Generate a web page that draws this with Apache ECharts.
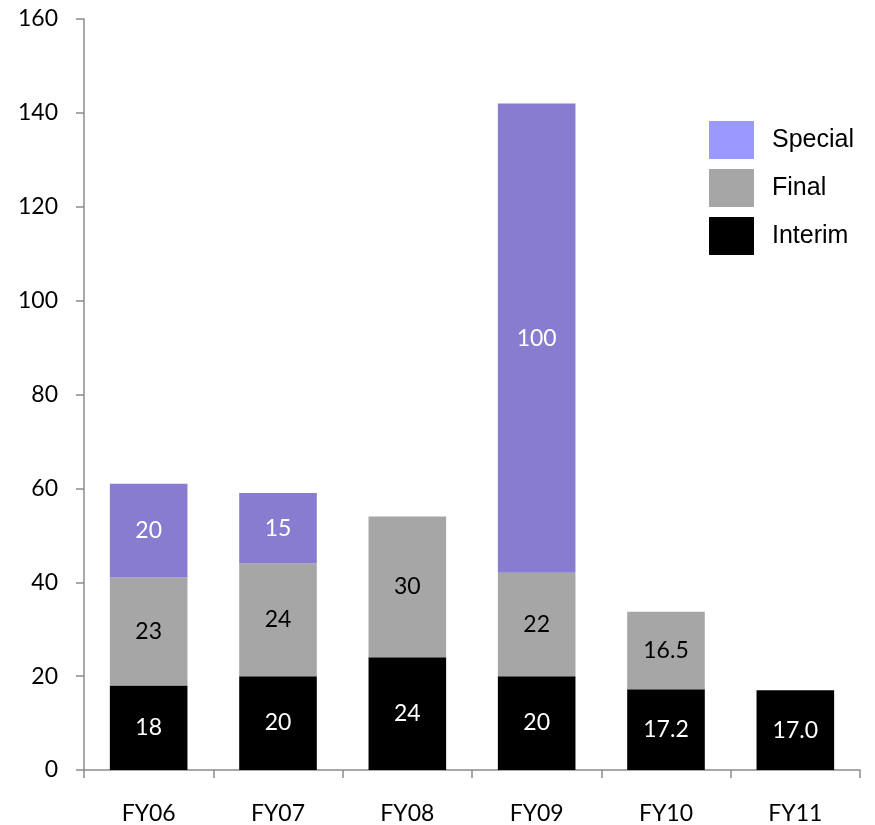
<!DOCTYPE html>
<html>
<head>
<meta charset="utf-8">
<script src="https://cdn.jsdelivr.net/npm/echarts@6/dist/echarts.min.js"></script>
<style>html,body{margin:0;padding:0;background:#fff}#chart{width:875px;height:825px}</style>
</head>
<body>
<div id="chart"></div>
<script>
const categories = ['FY06', 'FY07', 'FY08', 'FY09', 'FY10', 'FY11'];
const interim = [18, 20, 24, 20, 17.2, 17.0];
const interimLabels = ['18', '20', '24', '20', '17.2', '17.0'];
const finalDiv = [23, 24, 30, 22, 16.5, null];
const finalLabels = ['23', '24', '30', '22', '16.5', ''];
const special = [20, 15, null, 100, null, null];
const specialLabels = ['20', '15', '', '100', '', ''];
const yTicks = [0, 20, 40, 60, 80, 100, 120, 140, 160];

const labelFont = 'Lato, "Open Sans", sans-serif';
const fs = 23;
const chart = echarts.init(document.getElementById('chart'));
chart.setOption({
  animation: false,
  backgroundColor: '#fff',
  grid: { left: 84, right: 15, top: 19, bottom: 53 },
  legend: {
    orient: 'vertical',
    left: 709, top: 121, padding: 0,
    itemWidth: 45, itemHeight: 38, itemGap: 10,
    icon: 'rect',
    textStyle: { fontFamily: '"Liberation Sans", Arial, sans-serif', fontSize: 25, color: '#000', padding: [0, 0, 0, 13] },
    data: [
      { name: 'Special', itemStyle: { color: '#9999FF' } },
      { name: 'Final', itemStyle: { color: '#A6A6A6' } },
      { name: 'Interim', itemStyle: { color: '#000000' } }
    ]
  },
  xAxis: {
    type: 'category',
    data: categories,
    axisLine: { lineStyle: { color: '#8c8c8c', width: 1.5 } },
    axisTick: { show: true, length: 8, lineStyle: { color: '#8c8c8c', width: 1.5 } },
    axisLabel: { margin: 32, color: '#000', fontSize: fs, fontFamily: labelFont }
  },
  yAxis: {
    type: 'value',
    min: yTicks[0], max: yTicks[yTicks.length - 1], interval: 20,
    splitLine: { show: false },
    axisLine: { show: true, lineStyle: { color: '#8c8c8c', width: 1.5 } },
    axisTick: { show: true, length: 8, lineStyle: { color: '#8c8c8c', width: 1.5 } },
    axisLabel: { margin: 26, color: '#000', fontSize: fs, fontFamily: labelFont }
  },
  series: [
    {
      name: 'Interim', type: 'bar', stack: 'div', barWidth: '60%',
      data: interim,
      itemStyle: { color: '#000000' },
      label: { show: true, position: 'inside', color: '#fff', fontSize: fs, fontFamily: labelFont,
        formatter: p => interimLabels[p.dataIndex] }
    },
    {
      name: 'Final', type: 'bar', stack: 'div', barWidth: '60%',
      data: finalDiv,
      itemStyle: { color: '#A6A6A6' },
      label: { show: true, position: 'inside', color: '#000', fontSize: fs, fontFamily: labelFont,
        formatter: p => finalLabels[p.dataIndex] }
    },
    {
      name: 'Special', type: 'bar', stack: 'div', barWidth: '60%',
      data: special,
      itemStyle: { color: '#877CD0' },
      label: { show: true, position: 'inside', color: '#fff', fontSize: fs, fontFamily: labelFont,
        formatter: p => specialLabels[p.dataIndex] }
    }
  ]
});
</script>
</body>
</html>
